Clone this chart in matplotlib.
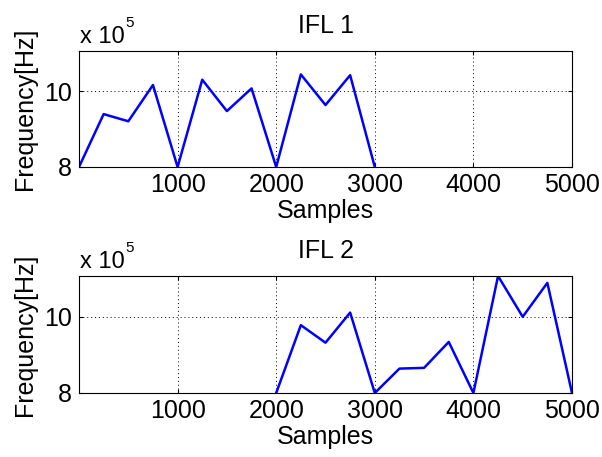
import numpy as np
import matplotlib
matplotlib.use("Agg")
import matplotlib.pyplot as plt

plt.rcParams['font.family'] = ['Liberation Sans', 'DejaVu Sans']

# samples and frequency values (units of 1e5 Hz)
samples_1 = [0, 250, 500, 750, 1000, 1250, 1500, 1750, 2000, 2250, 2500, 2750, 3000]
freq_1 = [8.0, 9.40, 9.21, 10.17, 8.0, 10.31, 9.48, 10.08, 8.0, 10.45, 9.64, 10.43, 8.0]

samples_2 = [2000, 2250, 2500, 2750, 3000, 3250, 3500, 3750, 4000, 4250, 4500, 4750, 5000]
freq_2 = [8.0, 9.78, 9.32, 10.11, 8.0, 8.64, 8.66, 9.34, 8.0, 11.07, 10.0, 10.89, 8.0]

titles = ['IFL 1', 'IFL 2']
xticks = [1000, 2000, 3000, 4000, 5000]
yticks = [8, 10]

fs = 18

fig = plt.figure(figsize=(6.02, 4.57), dpi=100)
ax1 = fig.add_axes([79/602, 1-167/457, 493/602, 116/457])
ax2 = fig.add_axes([79/602, 1-393/457, 493/602, 117/457])

for ax, xs, ys, t in [(ax1, samples_1, freq_1, titles[0]), (ax2, samples_2, freq_2, titles[1])]:
    ax.plot(xs, ys, color='#0000ff', lw=1.8, clip_on=True)
    ax.set_xlim(0, 5000)
    ax.set_ylim(8, 11.07)
    ax.set_xticks(xticks)
    ax.set_yticks(yticks)
    ax.tick_params(direction='in', length=3, labelsize=fs, top=True, right=True, pad=4)
    ax.tick_params(axis='y', pad=5)
    ax.grid(True, color='black', linestyle=(0, (1, 3)), linewidth=0.7)
    for s in ax.spines.values():
        s.set_linewidth(0.8)
    ax.set_title(t, fontsize=fs, pad=13)
    ax.set_xlabel('Samples', fontsize=fs, labelpad=2)
    ax.set_ylabel('Frequency[Hz]', fontsize=fs, labelpad=5)
    # multiplier in MATLAB style
    ax.annotate('x 10', xy=(0, 1), xycoords='axes fraction', xytext=(1, 8),
                textcoords='offset pixels', fontsize=17, ha='left', va='baseline')
    ax.annotate('5', xy=(0, 1), xycoords='axes fraction', xytext=(46, 24),
                textcoords='offset pixels', fontsize=11, ha='left', va='baseline')

fig.savefig('out.png', dpi=100)
